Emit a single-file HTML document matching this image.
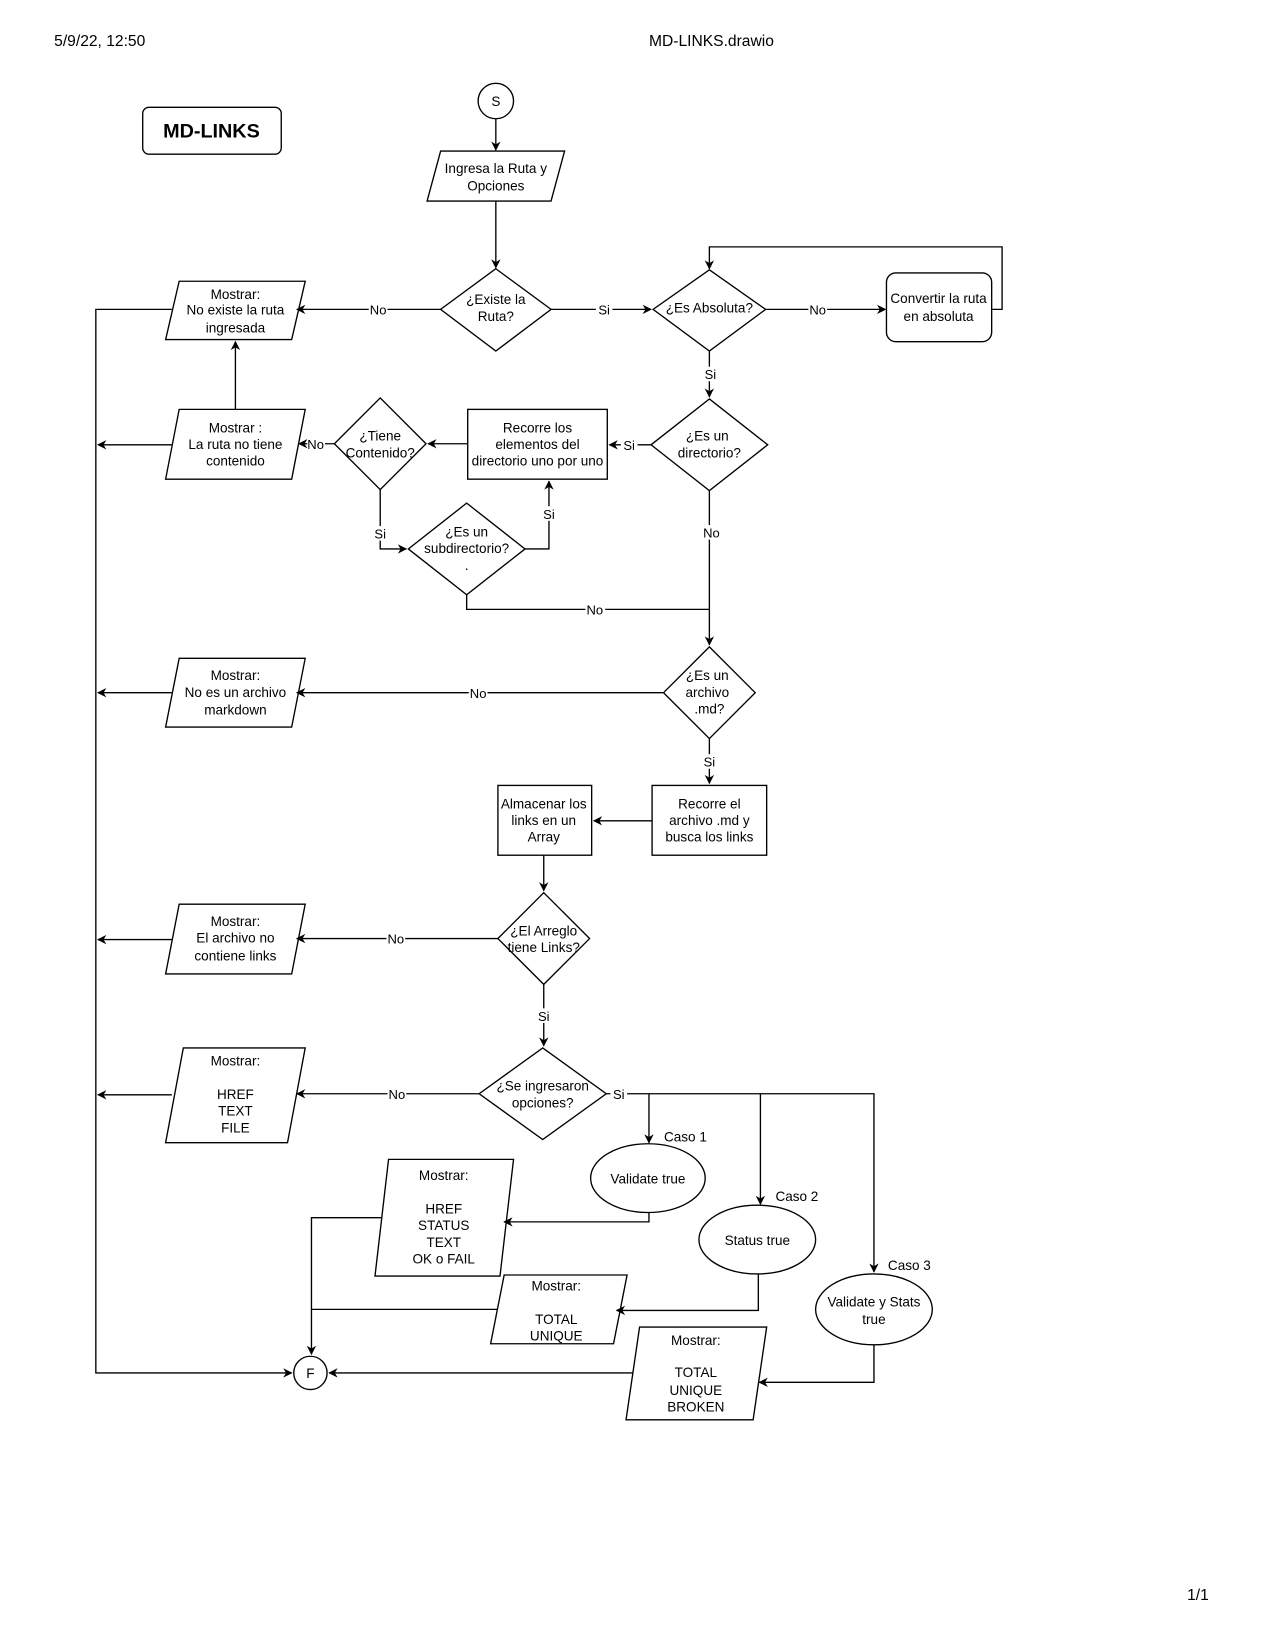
<!DOCTYPE html>
<html><head><meta charset="utf-8"><style>html,body{margin:0;padding:0;background:#fff}svg{display:block}</style></head>
<body>
<svg width="1275" height="1650" viewBox="0 0 1224 1584" xmlns="http://www.w3.org/2000/svg" font-family="Liberation Sans, Arial, sans-serif">
<defs><marker id="a" viewBox="0 0 10 10" refX="9" refY="5" markerWidth="9" markerHeight="9" markerUnits="userSpaceOnUse" orient="auto"><path d="M0,0 L10,5 L0,10 L3,5 z" fill="#000"/></marker></defs>
<g font-size="15" fill="#000">
<text x="52" y="44">5/9/22, 12:50</text>
<text x="683" y="44" text-anchor="middle">MD-LINKS.drawio</text>
<text x="1150" y="1536" text-anchor="middle">1/1</text>
</g>
<g fill="none" stroke="#000" stroke-width="1.3">
<rect x="137" y="103" width="133" height="45" rx="6" fill="#fff"/>
<circle cx="476" cy="97" r="17" fill="#fff"/>
<circle cx="298" cy="1318" r="16" fill="#fff"/>
<polygon points="423,145 542,145 529,193 410,193" fill="#fff"/>
<polygon points="476,258 529,297 476,337 423,297" fill="#fff"/>
<polygon points="681,259 735,297 681,337 627,297" fill="#fff"/>
<rect x="851" y="262" width="101" height="66" rx="9" fill="#fff"/>
<polygon points="172,270 293,270 280,326 159,326" fill="#fff"/>
<polygon points="681,383 737,427 681,471 625,427" fill="#fff"/>
<rect x="449" y="393" width="134" height="67" fill="#fff"/>
<polygon points="365,382 409,426 365,470 321,426" fill="#fff"/>
<polygon points="172,393 293,393 280,460 159,460" fill="#fff"/>
<polygon points="448,483 504,527 448,571 392,527" fill="#fff"/>
<polygon points="681,621 725,665 681,709 637,665" fill="#fff"/>
<polygon points="172,632 293,632 280,698 159,698" fill="#fff"/>
<rect x="626" y="754" width="110" height="67" fill="#fff"/>
<rect x="478" y="754" width="90" height="67" fill="#fff"/>
<polygon points="522,857 566,901 522,945 478,901" fill="#fff"/>
<polygon points="172,868 293,868 280,935 159,935" fill="#fff"/>
<polygon points="521,1006 582,1050 521,1094 460,1050" fill="#fff"/>
<polygon points="176,1006 293,1006 276,1097 159,1097" fill="#fff"/>
<ellipse cx="622" cy="1131" rx="55" ry="33" fill="#fff"/>
<ellipse cx="727" cy="1190" rx="56" ry="33" fill="#fff"/>
<ellipse cx="839" cy="1257" rx="56" ry="34" fill="#fff"/>
<polygon points="373,1113 493,1113 480,1225 360,1225" fill="#fff"/>
<polygon points="484,1224 602,1224 589,1290 471,1290" fill="#fff"/>
<polygon points="614,1274 736,1274 723,1363 601,1363" fill="#fff"/>
</g>
<g fill="none" stroke="#000" stroke-width="1.3">
<path d="M476,114 V144" marker-end="url(#a)"/>
<path d="M476,193 V257" marker-end="url(#a)"/>
<path d="M423,297 H285" marker-end="url(#a)"/>
<path d="M529,297 H625" marker-end="url(#a)"/>
<path d="M735,297 H850" marker-end="url(#a)"/>
<path d="M952,297 H962 V237 H681 V258" marker-end="url(#a)"/>
<path d="M681,337 V381" marker-end="url(#a)"/>
<path d="M625,427 H585" marker-end="url(#a)"/>
<path d="M449,426 H411" marker-end="url(#a)"/>
<path d="M321,426 H287" marker-end="url(#a)"/>
<path d="M226,393 V328" marker-end="url(#a)"/>
<path d="M365,470 V527 H390" marker-end="url(#a)"/>
<path d="M504,527 H527 V462" marker-end="url(#a)"/>
<path d="M448,571 V585 H681"/>
<path d="M681,471 V619" marker-end="url(#a)"/>
<path d="M637,665 H285" marker-end="url(#a)"/>
<path d="M681,709 V752" marker-end="url(#a)"/>
<path d="M626,788 H570" marker-end="url(#a)"/>
<path d="M522,821 V855" marker-end="url(#a)"/>
<path d="M478,901 H285" marker-end="url(#a)"/>
<path d="M522,945 V1004" marker-end="url(#a)"/>
<path d="M460,1050 H285" marker-end="url(#a)"/>
<path d="M582,1050 H839 V1221" marker-end="url(#a)"/>
<path d="M623,1050 V1097" marker-end="url(#a)"/>
<path d="M730,1050 V1156" marker-end="url(#a)"/>
<path d="M623,1164 V1173 H484" marker-end="url(#a)"/>
<path d="M728,1223 V1258 H592" marker-end="url(#a)"/>
<path d="M839,1291 V1327 H729" marker-end="url(#a)"/>
<path d="M608,1318 H316" marker-end="url(#a)"/>
<path d="M366,1169 H299 V1300" marker-end="url(#a)"/>
<path d="M478,1257 H299"/>
<path d="M165,297 H92 V1318 H280" marker-end="url(#a)"/>
<path d="M165,427 H94" marker-end="url(#a)"/>
<path d="M165,665 H94" marker-end="url(#a)"/>
<path d="M165,902 H94" marker-end="url(#a)"/>
<path d="M165,1051 H94" marker-end="url(#a)"/>
</g>
<g font-size="12.5" fill="#000" text-anchor="middle">
<g fill="#fff"><rect x="354" y="290" width="18" height="14"/><rect x="572" y="290" width="16" height="14"/><rect x="776" y="290" width="18" height="14"/><rect x="674" y="352" width="16" height="14"/><rect x="596" y="420" width="16" height="14"/><rect x="295" y="419" width="17" height="14"/><rect x="357" y="505" width="16" height="14"/><rect x="519" y="486" width="16" height="14"/><rect x="674" y="504" width="18" height="14"/><rect x="562" y="578" width="19" height="14"/><rect x="450" y="658" width="18" height="14"/><rect x="673" y="724" width="16" height="14"/><rect x="371" y="894" width="18" height="14"/><rect x="514" y="968" width="16" height="14"/><rect x="372" y="1043" width="18" height="14"/><rect x="586" y="1043" width="16" height="14"/></g>
<text x="363" y="302">No</text><text x="580" y="302">Si</text><text x="785" y="302">No</text>
<text x="682" y="364">Si</text><text x="604" y="432">Si</text><text x="303" y="431">No</text>
<text x="365" y="517">Si</text><text x="527" y="498">Si</text><text x="683" y="516">No</text>
<text x="571" y="590">No</text><text x="459" y="670">No</text><text x="681" y="736">Si</text>
<text x="380" y="906">No</text><text x="522" y="980">Si</text><text x="381" y="1055">No</text><text x="594" y="1055">Si</text>
</g>
<g font-size="13" fill="#000" text-anchor="middle">
<text x="476" y="102">S</text><text x="298" y="1323">F</text>
<text x="203" y="132" font-size="19" font-weight="bold">MD-LINKS</text>
<text x="476" y="166">Ingresa la Ruta y</text><text x="476" y="183">Opciones</text>
<text x="476" y="292">¿Existe la</text><text x="476" y="308">Ruta?</text>
<text x="681" y="300">¿Es Absoluta?</text>
<text x="901" y="291">Convertir la ruta</text><text x="901" y="308">en absoluta</text>
<text x="226" y="287">Mostrar:</text><text x="226" y="302">No existe la ruta</text><text x="226" y="319">ingresada</text>
<text x="679" y="423">¿Es un</text><text x="681" y="439">directorio?</text>
<text x="516" y="415">Recorre los</text><text x="516" y="431">elementos del</text><text x="516" y="447">directorio uno por uno</text>
<text x="365" y="423">¿Tiene</text><text x="365" y="439">Contenido?</text>
<text x="226" y="415">Mostrar :</text><text x="226" y="431">La ruta no tiene</text><text x="226" y="447">contenido</text>
<text x="448" y="515">¿Es un</text><text x="448" y="531">subdirectorio?</text><text x="448" y="547">.</text>
<text x="679" y="653">¿Es un</text><text x="679" y="669">archivo</text><text x="681" y="685">.md?</text>
<text x="226" y="653">Mostrar:</text><text x="226" y="669">No es un archivo</text><text x="226" y="686">markdown</text>
<text x="681" y="776">Recorre el</text><text x="681" y="792">archivo .md y</text><text x="681" y="808">busca los links</text>
<text x="522" y="776">Almacenar los</text><text x="522" y="792">links en un</text><text x="522" y="808">Array</text>
<text x="522" y="898">¿El Arreglo</text><text x="522" y="914">tiene Links?</text>
<text x="226" y="889">Mostrar:</text><text x="226" y="905">El archivo no</text><text x="226" y="922">contiene links</text>
<text x="521" y="1047">¿Se ingresaron</text><text x="521" y="1063">opciones?</text>
<text x="226" y="1023">Mostrar:</text><text x="226" y="1055">HREF</text><text x="226" y="1071">TEXT</text><text x="226" y="1087">FILE</text>
<text x="658" y="1096">Caso 1</text><text x="765" y="1153">Caso 2</text><text x="873" y="1219">Caso 3</text>
<text x="622" y="1136">Validate true</text>
<text x="727" y="1195">Status true</text>
<text x="839" y="1254">Validate y Stats</text><text x="839" y="1271">true</text>
<text x="426" y="1133">Mostrar:</text><text x="426" y="1165">HREF</text><text x="426" y="1181">STATUS</text><text x="426" y="1197">TEXT</text><text x="426" y="1213">OK o FAIL</text>
<text x="534" y="1239">Mostrar:</text><text x="534" y="1271">TOTAL</text><text x="534" y="1287">UNIQUE</text>
<text x="668" y="1291">Mostrar:</text><text x="668" y="1322">TOTAL</text><text x="668" y="1339">UNIQUE</text><text x="668" y="1355">BROKEN</text>
</g>
</svg>
</body></html>
